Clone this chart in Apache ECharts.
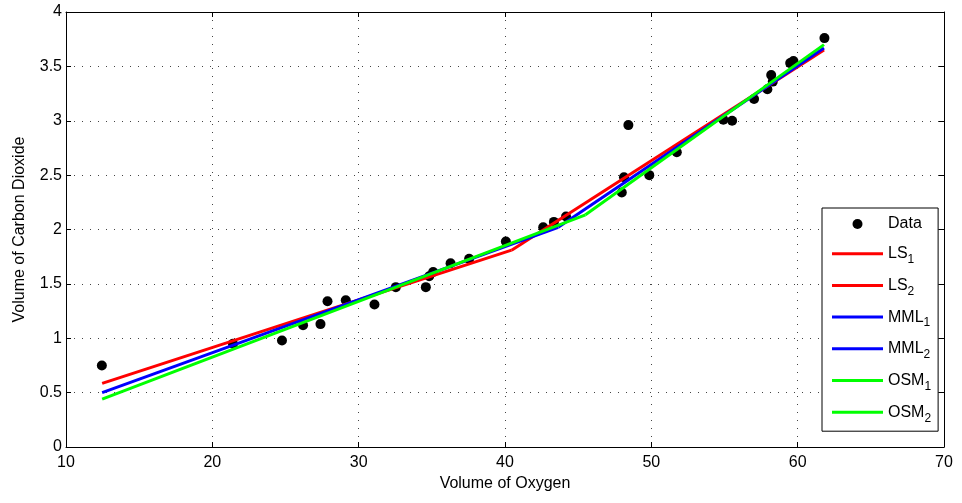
<!DOCTYPE html>
<html>
<head>
<meta charset="utf-8">
<script src="https://cdn.jsdelivr.net/npm/echarts@6/dist/echarts.min.js"></script>
<style>html,body{margin:0;padding:0;background:#fff;}#c{width:962px;height:503px;}</style>
</head>
<body>
<div id="c"></div>
<script>
// Observed data (Volume of Oxygen, Volume of Carbon Dioxide)
const oxygen = [12.45,21.41,24.76,26.20,27.39,27.87,29.12,31.08,32.54,34.59,34.82,35.09,36.28,37.55,40.06,42.61,43.34,44.17,47.98,48.13,48.43,49.86,51.74,54.92,55.52,57.02,57.93,58.30,58.19,59.49,59.71,61.83];
const co2    = [0.75,0.95,0.98,1.12,1.13,1.34,1.35,1.31,1.47,1.47,1.57,1.61,1.69,1.73,1.89,2.02,2.07,2.12,2.34,2.48,2.96,2.50,2.71,3.01,3.00,3.20,3.29,3.36,3.42,3.53,3.55,3.76];

// Fitted piecewise lines: regime 1 and regime 2 for each method
const ls1X  = [12.47, 40.45], ls1Y  = [0.585, 1.81];
const ls2X  = [40.45, 61.8],  ls2Y  = [1.81, 3.65];
const mml1X = [12.47, 43.64], mml1Y = [0.50, 2.02];
const mml2X = [43.64, 61.8],  mml2Y = [2.02, 3.67];
const osm1X = [12.47, 45.5],  osm1Y = [0.44, 2.135];
const osm2X = [45.5, 61.8],   osm2Y = [2.135, 3.70];

const xTicks = [10,20,30,40,50,60,70];
const yTicks = [0,0.5,1,1.5,2,2.5,3,3.5,4];

const zip = (a,b) => a.map((v,i)=>[v,b[i]]);
const FONT = 'Liberation Sans, Arial, sans-serif';
const LINE_ICON = 'path://M0,0H51V3H0Z';

function lineSeries(name, xs, ys, color){
  return {name, type:'line', data: zip(xs,ys), symbol:'none', showSymbol:false,
    lineStyle:{color, width:3}, itemStyle:{color}, z:3, animation:false};
}

const chart = echarts.init(document.getElementById('c'), null, {renderer:'canvas'});
const axisCommon = {
  axisLine:{show:true, onZero:false, lineStyle:{color:'#000', width:1}},
  axisTick:{show:true, inside:true, length:5, lineStyle:{color:'#000'}},
};
chart.setOption({
  animation:false,
  backgroundColor:'#fff',
  grid:{left:66, right:18, top:12, bottom:56, containLabel:false},
  xAxis:[{
    type:'value', min:xTicks[0], max:xTicks[xTicks.length-1], interval:10,
    name:'Volume of Oxygen', nameLocation:'middle', nameGap:28,
    nameTextStyle:{fontFamily:FONT, fontSize:16, color:'#000'},
    ...axisCommon,
    axisLabel:{fontFamily:FONT, fontSize:16, color:'#000', margin:8},
    splitLine:{show:true, lineStyle:{color:'#444', width:1, type:[1,7]}}
  },{
    type:'value', position:'top', min:xTicks[0], max:xTicks[xTicks.length-1], interval:10,
    ...axisCommon, axisLabel:{show:false}, splitLine:{show:false}
  }],
  yAxis:[{
    type:'value', min:yTicks[0], max:yTicks[yTicks.length-1], interval:0.5,
    name:'Volume of Carbon Dioxide', nameLocation:'middle', nameGap:38,
    nameTextStyle:{fontFamily:FONT, fontSize:16, color:'#000'},
    ...axisCommon,
    axisLabel:{fontFamily:FONT, fontSize:16, color:'#000', margin:4},
    splitLine:{show:true, lineStyle:{color:'#444', width:1, type:[1,7]}}
  },{
    type:'value', position:'right', min:yTicks[0], max:yTicks[yTicks.length-1], interval:0.5,
    ...axisCommon, axisLabel:{show:false}, splitLine:{show:false}
  }],
  legend:{
    orient:'vertical', left:822, top:208,
    backgroundColor:'#fff', borderColor:'#000', borderWidth:1, borderRadius:0,
    padding:[6,7,7,10],
    itemWidth:51, itemHeight:10, itemGap:9.7,
    textStyle:{fontFamily:FONT, fontSize:16, color:'#000', lineHeight:20,
      rich:{sub:{fontFamily:FONT, fontSize:12, color:'#000', padding:[12,0,0,0]}}},
    formatter: n => n.replace(/_(\d)/, '{sub|$1}'),
    data:[
      {name:'Data', icon:'circle'},
      {name:'LS_1', icon:LINE_ICON},{name:'LS_2', icon:LINE_ICON},
      {name:'MML_1', icon:LINE_ICON},{name:'MML_2', icon:LINE_ICON},
      {name:'OSM_1', icon:LINE_ICON},{name:'OSM_2', icon:LINE_ICON}
    ]
  },
  series:[
    {name:'Data', type:'scatter', data: zip(oxygen, co2), symbol:'circle', symbolSize:10,
      itemStyle:{color:'#000', opacity:1}, z:2},
    lineSeries('LS_1', ls1X, ls1Y, '#ff0000'),
    lineSeries('LS_2', ls2X, ls2Y, '#ff0000'),
    lineSeries('MML_1', mml1X, mml1Y, '#0000ff'),
    lineSeries('MML_2', mml2X, mml2Y, '#0000ff'),
    lineSeries('OSM_1', osm1X, osm1Y, '#00ff00'),
    lineSeries('OSM_2', osm2X, osm2Y, '#00ff00')
  ]
});
</script>
</body>
</html>
